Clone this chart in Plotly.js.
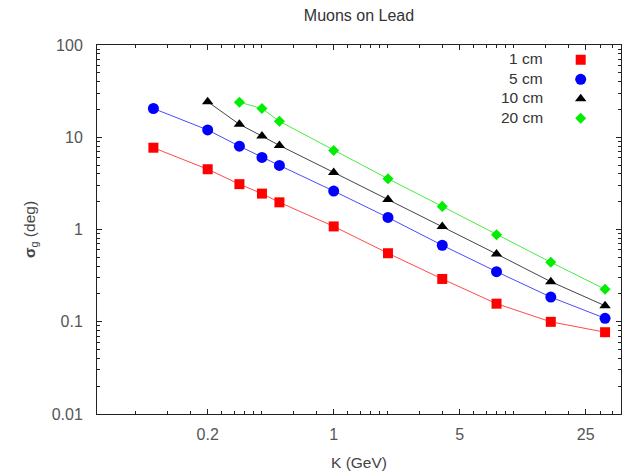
<!DOCTYPE html>
<html><head><meta charset="utf-8">
<script src="https://cdn.plot.ly/plotly-3.0.1.min.js"></script>
<style>html,body{margin:0;padding:0;background:#fff}#chart{width:623px;height:471px}</style>
</head><body><div id="chart"></div>
<script>
// Data (K in GeV, sigma_g in degrees)
const energy1 = [0.1, 0.2, 0.3, 0.4, 0.5, 1, 2, 4, 8, 16, 32];
const sigma1cm = [7.7, 4.5, 3.1, 2.45, 1.97, 1.08, 0.553, 0.291, 0.157, 0.0998, 0.077];
const energy5 = [0.1, 0.2, 0.3, 0.4, 0.5, 1, 2, 4, 8, 16, 32];
const sigma5cm = [20.5, 12.0, 8.0, 6.04, 4.95, 2.61, 1.35, 0.675, 0.349, 0.185, 0.109];
const energy10 = [0.2, 0.3, 0.4, 0.5, 1, 2, 4, 8, 16, 32];
const sigma10cm = [24.3, 13.8, 10.3, 8.15, 4.16, 2.12, 1.08, 0.543, 0.272, 0.149];
const energy20 = [0.3, 0.4, 0.5, 1, 2, 4, 8, 16, 32];
const sigma20cm = [24.0, 20.5, 14.9, 7.2, 3.55, 1.78, 0.878, 0.442, 0.225];
const seriesNames = ['1 cm', '5 cm', '10 cm', '20 cm'];

// Tick labels
const xTickVals = [0.2, 1, 5, 25];
const xTickText = ['0.2', '1', '5', '25'];
const xMinorVals = [0.08, 0.12, 0.16, 0.24, 0.28, 0.32, 0.36, 0.4, 0.6, 0.8,
  1.2, 1.4, 1.6, 1.8, 2, 3, 4, 6, 7, 8, 9, 10, 15, 20, 30, 35];
const yTickVals = [0.01, 0.1, 1, 10, 100];
const yTickText = ['0.01', '0.1', '1', '10', '100'];
const yMinorVals = [];
[0.01, 0.1, 1, 10].forEach(d => { for (let k = 2; k <= 9; k++) yMinorVals.push(+(d * k).toPrecision(3)); });

const styles = [
  {color: '#ff0000', line: '#ff4a4a', symbol: 'square', size: 10},
  {color: '#0000ff', line: '#4a4aff', symbol: 'circle', size: 11},
  {color: '#000000', line: '#444444', symbol: 'triangle-up', size: 10},
  {color: '#00ee00', line: '#44ee44', symbol: 'diamond', size: 8.5}
];
const xs = [energy1, energy5, energy10, energy20];
const ys = [sigma1cm, sigma5cm, sigma10cm, sigma20cm];

const traces = [];
xs.forEach((x, i) => traces.push({
  x: x, y: ys[i], type: 'scatter', mode: 'lines', showlegend: false,
  line: {color: styles[i].line, width: 1}, hoverinfo: 'skip'
}));
xs.forEach((x, i) => traces.push({
  x: x, y: ys[i], type: 'scatter', mode: 'markers', name: ' ', showlegend: true,
  marker: {color: styles[i].color, symbol: styles[i].symbol, size: styles[i].size, line: {width: 0}}
}));

const FONT = 'Liberation Sans, Arial, sans-serif';
const annotations = seriesNames.map((t, i) => ({
  text: t, xref: 'paper', yref: 'paper', x: 0.855, y: (414.3 - (58.5 + 19.5 * i)) / 369.6,
  xanchor: 'right', yanchor: 'middle', showarrow: false,
  font: {family: FONT, size: 15.5, color: '#333'}
}));

const axisCommon = {
  showgrid: false, zeroline: false, showline: true, linecolor: '#222', linewidth: 1,
  mirror: 'ticks', ticks: 'inside', ticklen: 5, tickwidth: 1, tickcolor: '#222',
  tickfont: {family: FONT, size: 16, color: '#555'}
};

const layout = {
  width: 623, height: 471,
  margin: {l: 97, r: 2, t: 45, b: 57},
  paper_bgcolor: '#fff', plot_bgcolor: '#fff',
  font: {family: FONT, color: '#444'},
  title: {text: 'Muons on Lead', xref: 'paper', x: 0.5, xanchor: 'center',
    yref: 'container', y: 1 - 15 / 471, yanchor: 'middle',
    font: {family: FONT, size: 16, color: '#333'}},
  xaxis: Object.assign({}, axisCommon, {
    type: 'log', range: [-1.3128, 1.5935],
    tickmode: 'array', tickvals: xTickVals, ticktext: xTickText,
    ticklabelstandoff: 6,
    minor: {tickmode: 'array', tickvals: xMinorVals, ticks: 'inside', ticklen: 3, tickcolor: '#222', showgrid: false},
    title: {text: 'K (GeV)', standoff: 14, font: {family: FONT, size: 15.5, color: '#444'}}
  }),
  yaxis: Object.assign({}, axisCommon, {
    type: 'log', range: [-2, 2],
    tickmode: 'array', tickvals: yTickVals, ticktext: yTickText,
    ticklabelstandoff: 10,
    minor: {tickmode: 'array', tickvals: yMinorVals, ticks: 'inside', ticklen: 3, tickcolor: '#222', showgrid: false},
    title: {text: '<b>σ</b><sub>g</sub> (deg)', standoff: 12, font: {family: FONT, size: 15.5, color: '#444'}}
  }),
  legend: {x: (560.7 - 97) / 524, xanchor: 'left', y: 1.0, yanchor: 'top',
    bgcolor: 'rgba(0,0,0,0)', borderwidth: 0, tracegroupgap: 0, itemwidth: 30,
    font: {family: FONT, size: 12.7, color: '#333'}},
  annotations: annotations
};

Plotly.newPlot('chart', traces, layout, {displayModeBar: false, staticPlot: true});
</script>
</body></html>
